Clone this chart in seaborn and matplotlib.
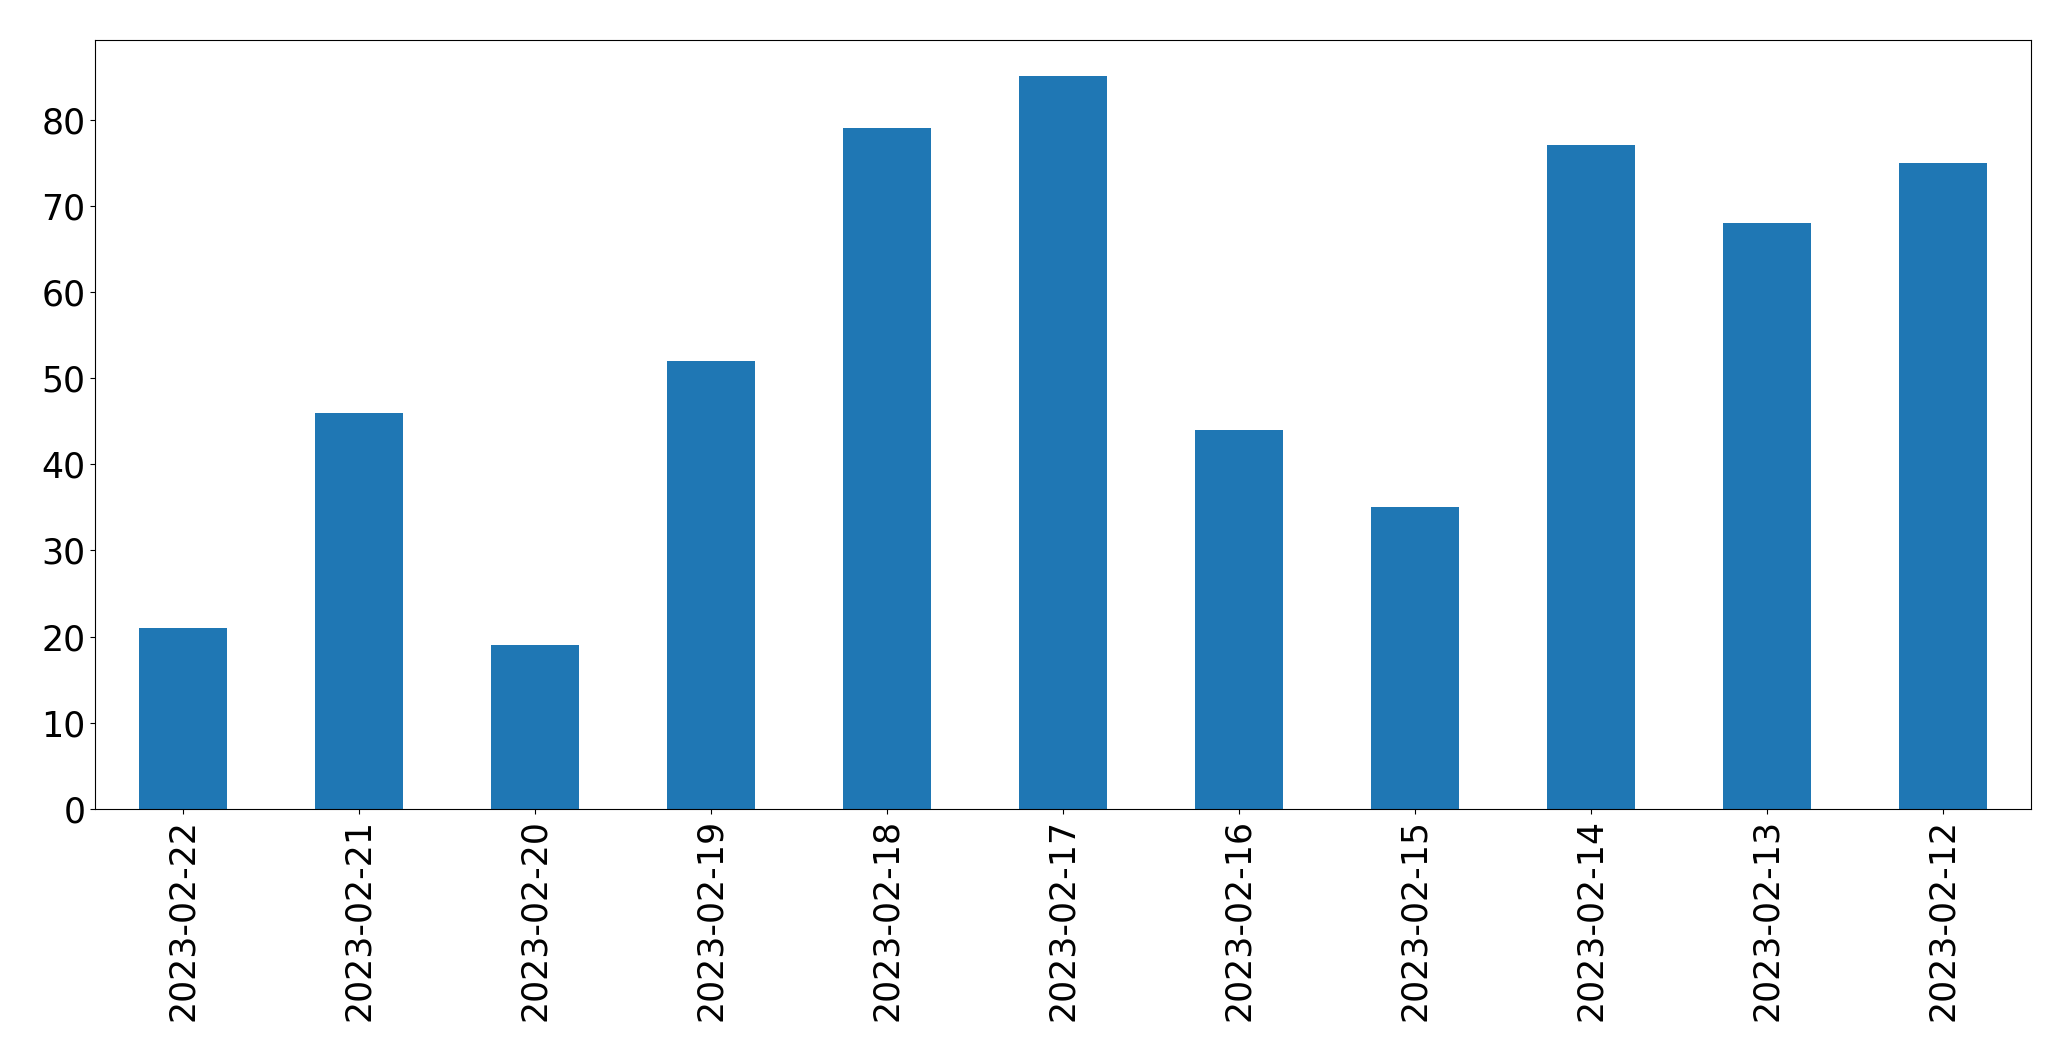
import pandas as pd
import matplotlib
matplotlib.use("Agg")
import matplotlib.pyplot as plt
import seaborn as sns

dates = ["2023-02-22", "2023-02-21", "2023-02-20", "2023-02-19", "2023-02-18",
         "2023-02-17", "2023-02-16", "2023-02-15", "2023-02-14", "2023-02-13",
         "2023-02-12"]
values = [21, 46, 19, 52, 79, 85, 44, 35, 77, 68, 75]

df = pd.DataFrame({"date": dates, "value": values})

fig, ax = plt.subplots(figsize=(20.71, 10.61), dpi=100)
sns.barplot(data=df, x="date", y="value", color="#1f77b4", saturation=1,
            width=0.5, ax=ax)
ax.set_xlabel("")
ax.set_ylabel("")
ax.set_xlim(-0.5, len(dates) - 0.5)
ax.tick_params(axis="both", labelsize=25)
ax.tick_params(axis="x", rotation=90)
fig.subplots_adjust(left=0.046, right=0.9805, top=0.9625, bottom=0.2375)
fig.savefig("out.png", dpi=100)
